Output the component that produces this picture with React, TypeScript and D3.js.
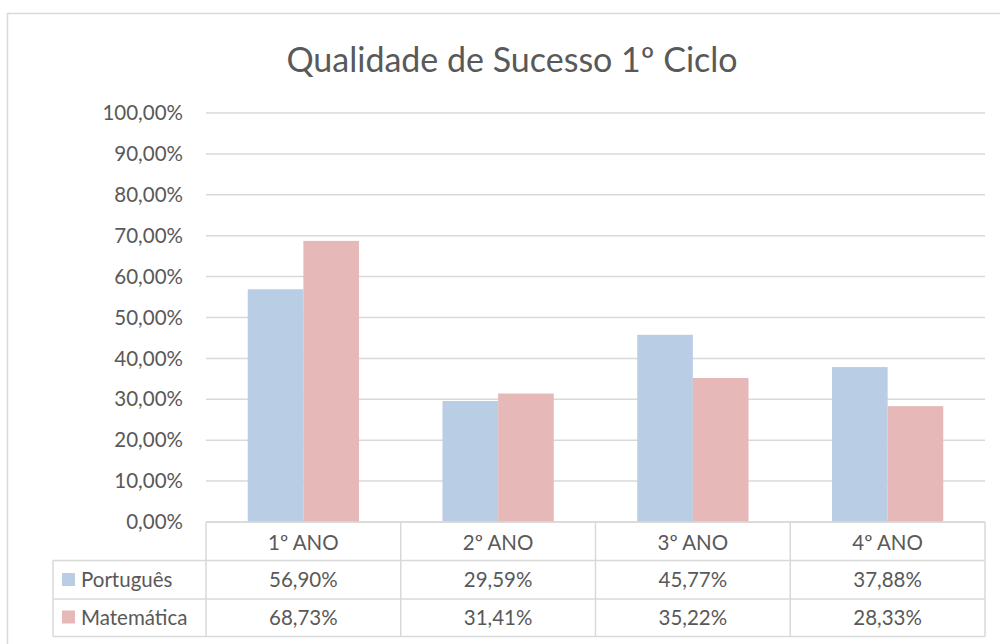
import React from "react";
import * as d3 from "d3";

const title = "Qualidade de Sucesso 1º Ciclo";
const categories = ["1º ANO", "2º ANO", "3º ANO", "4º ANO"];
const seriesNames = ["Português", "Matemática"];
const portugues = [56.9, 29.59, 45.77, 37.88];
const matematica = [68.73, 31.41, 35.22, 28.33];
const yTicks = [0, 10, 20, 30, 40, 50, 60, 70, 80, 90, 100];
const colors = ["#b9cde5", "#e6b9b8"];

const W = 1000;
const H = 644;
const left = 206;
const right = 985;
const top = 113;
const bottom = 522;
const FONT = "Lato, 'Open Sans', sans-serif";
const TXT = "#595959";
const GRID = "#d9d9d9";

const fmt = (v: number) => v.toFixed(2).replace(".", ",") + "%";

export default function App() {
  const seriesValues = [portugues, matematica];
  const y = d3.scaleLinear().domain([0, 100]).range([bottom, top]);
  const x0 = d3.scaleBand<string>().domain(categories).range([left, right]).paddingInner(0).paddingOuter(0);
  const x1 = d3
    .scaleBand<string>()
    .domain(seriesNames)
    .range([0, x0.bandwidth()])
    .paddingInner(0)
    .paddingOuter(0.75);

  const rowsY = [bottom, bottom + 38.5, bottom + 77, bottom + 114.5];

  return (
    <div style={{ position: "absolute", left: 0, top: 0 }}>
      <svg width={W} height={H} style={{ display: "block", background: "#fff" }}>
        <rect x={7.5} y={13.5} width={1000} height={700} fill="#fff" stroke={GRID} strokeWidth={1.5} />
        <text x={512} y={72} textAnchor="middle" fontFamily={FONT} fontSize={34} fill={TXT}>
          {title}
        </text>
        {yTicks.map((t) => (
          <g key={t}>
            <line x1={left} x2={right} y1={y(t)} y2={y(t)} stroke={GRID} strokeWidth={1.5} />
            <text
              x={183}
              y={y(t)}
              dy="0.35em"
              textAnchor="end"
              fontFamily={FONT}
              fontSize={20.5}
              fill={TXT}
            >
              {fmt(t)}
            </text>
          </g>
        ))}
        {categories.map((c, i) => (
          <g key={c}>
            {seriesNames.map((s, j) => {
              const v = seriesValues[j][i];
              return (
                <rect
                  key={s}
                  x={(x0(c) as number) + (x1(s) as number)}
                  y={y(v)}
                  width={x1.bandwidth()}
                  height={y(0) - y(v)}
                  fill={colors[j]}
                />
              );
            })}
          </g>
        ))}
        <g stroke={GRID} strokeWidth={1.5} fill="none">
          <line x1={left} x2={right} y1={rowsY[0]} y2={rowsY[0]} />
          {rowsY.slice(1).map((ry, i) => (
            <line key={i} x1={53} x2={right} y1={ry} y2={ry} />
          ))}
          <line x1={53} x2={53} y1={rowsY[1]} y2={rowsY[3]} />
          {categories.map((c) => (
            <line key={c} x1={x0(c)} x2={x0(c)} y1={rowsY[0]} y2={rowsY[3]} />
          ))}
          <line x1={right} x2={right} y1={rowsY[0]} y2={rowsY[3]} />
        </g>
        {categories.map((c, i) => (
          <g key={c} fontFamily={FONT} fontSize={20.5} fill={TXT} textAnchor="middle">
            <text x={(x0(c) as number) + x0.bandwidth() / 2} y={550}>
              {c}
            </text>
            {seriesNames.map((s, j) => (
              <text key={s} x={(x0(c) as number) + x0.bandwidth() / 2} y={587 + j * 37.5}>
                {fmt(seriesValues[j][i])}
              </text>
            ))}
          </g>
        ))}
        {seriesNames.map((s, j) => (
          <g key={s}>
            <rect x={62} y={573 + j * 37.5} width={13} height={13} fill={colors[j]} />
            <text x={81} y={587 + j * 37.5} fontFamily={FONT} fontSize={20.5} fill={TXT}>
              {s}
            </text>
          </g>
        ))}
      </svg>
    </div>
  );
}
